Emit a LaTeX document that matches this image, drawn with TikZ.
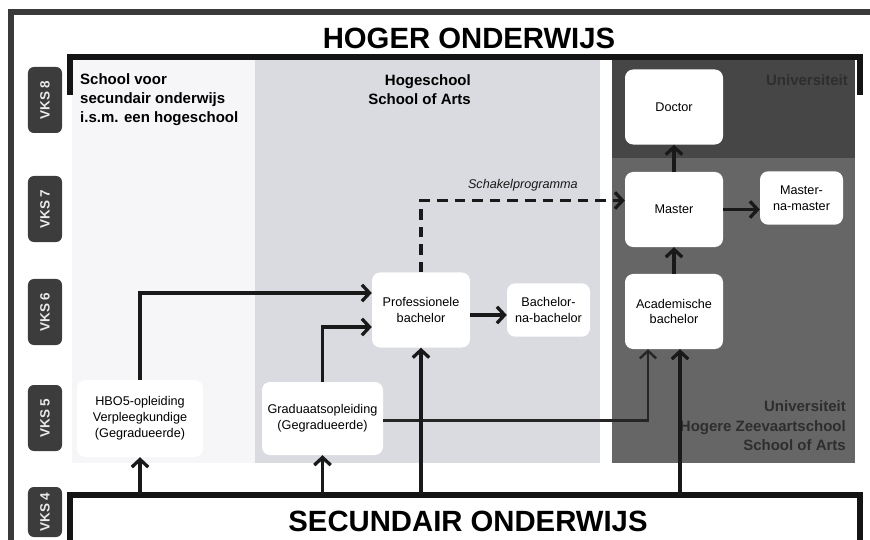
\documentclass[tikz,border=0pt]{standalone}
\usepackage{fontspec}
\setmainfont{Liberation Sans}
\usetikzlibrary{positioning, arrows.meta, calc}

\definecolor{frameGrey}{HTML}{3A3A3A}
\definecolor{tabGrey}{HTML}{3C3C3C}
\definecolor{schoolPanel}{HTML}{F6F6F9}
\definecolor{hsPanel}{HTML}{DADBE1}
\definecolor{uniTop}{HTML}{464646}
\definecolor{uniLow}{HTML}{666666}
\definecolor{uniText}{HTML}{2E2E2E}

\begin{document}
\begin{tikzpicture}[
    x=0.03cm, y=-0.03cm,
    >={Straight Barb[length=6.5pt, width=14pt]},
    conn/.style={->, line width=2.8pt, black!90},
    thinconn/.style={->, line width=2pt, black!85},
    schakel/.style={->, line width=2.8pt, black!90, dash pattern=on 9pt off 6pt},
    box/.style={rounded corners=7pt, fill=white, align=center, inner sep=2pt,
        font=\fontsize{10.8}{13.5}\selectfont},
    bigbox/.style={box, minimum width=2.94cm, minimum height=2.25cm},
    smallbox/.style={box, minimum width=2.49cm, minimum height=1.6cm},
    widebox/.style={box, minimum width=3.7cm, minimum height=2.25cm},
    vks/.style={rotate=90, fill=tabGrey, text=black!8, rounded corners=5pt,
        minimum width=1.98cm, minimum height=1.02cm, inner sep=0pt,
        font=\fontsize{11.5}{13}\selectfont\bfseries},
    title/.style={font=\fontsize{25}{30}\selectfont\bfseries},
    paneltitle/.style={font=\fontsize{12.8}{16.5}\selectfont\bfseries, inner sep=0pt},
    bracket/.style={line width=4.7pt, black!92},
]
    \useasboundingbox (0,0) rectangle (870,540);

    % --- Achtergrondvlakken ---
    \fill[schoolPanel] (72,60) rectangle (255,463);
    \fill[hsPanel] (255,60) rectangle (600,463);
    \fill[uniTop] (612,60) rectangle (855,158);
    \fill[uniLow] (612,158) rectangle (855,463);

    % --- Kaders ---
    \draw[line width=4.5pt, frameGrey] (11,540) -- (11,12) -- (870,12);
    \draw[bracket] (70,95) |- (860,57) -- (860,95);
    \draw[bracket] (70,540) |- (860,495) -- (860,540);
    \coordinate (sec) at (0,495);

    % --- Titels ---
    \node[title] (hoger) at (469,38) {HOGER ONDERWIJS};
    \node[title] (secundair) at (468,521) {SECUNDAIR ONDERWIJS};

    % --- VKS-niveaus ---
    \node[vks] (vks8) at (45,100) {VKS 8};
    \node[vks] (vks7) at (45,209) {VKS 7};
    \node[vks] (vks6) at (45,312) {VKS 6};
    \node[vks] (vks5) at (45,418) {VKS 5};
    \node[vks, minimum width=1.5cm] (vks4) at (45,512) {VKS 4};

    % --- Namen van de instellingen ---
    \node[paneltitle, align=left, anchor=north west] (svo) at (80,73)
        {School voor\\secundair onderwijs\\i.s.m. een hogeschool};
    \node[paneltitle, align=right, anchor=north east] (hs) at (471,74)
        {Hogeschool\\School of Arts};
    \node[paneltitle, text=uniText, anchor=north east] (uni) at (848,74) {Universiteit};
    \node[paneltitle, text=uniText, align=right, anchor=south east,
        font=\fontsize{12.8}{16.5}\selectfont\bfseries] (unilow) at (846,451)
        {Universiteit\\Hogere Zeevaartschool\\School of Arts};

    % --- Opleidingen ---
    \node[bigbox] (doctor) at (674,107) {Doctor};
    \node[bigbox] (master) at (674,209.5) {Master};
    \node[smallbox] (mnm) at (801.5,198) {Master-\\na-master};
    \node[bigbox] (acad) at (674,311.5) {Academische\\bachelor};
    \node[bigbox] (prof) at (421,310) {Professionele\\bachelor};
    \node[smallbox] (bnb) at (548.5,310) {Bachelor-\\na-bachelor};
    \node[widebox, minimum width=3.78cm, minimum height=2.31cm] (hbo) at (140,418.5)
        {HBO5-opleiding\\Verpleegkundige\\(Gegradueerde)};
    \node[widebox, minimum width=3.63cm, minimum height=2.19cm] (grad) at (322.5,418.5)
        {Graduaatsopleiding\\(Gegradueerde)};

    % --- Doorstroom binnen het hoger onderwijs ---
    \draw[conn] (master.north) -- (doctor.south);
    \draw[conn] (acad.north) -- (master.south);
    \draw[conn] (master.east) -- (master.east -| mnm.west);
    \draw[conn] ($(prof.east)+(0,5)$) -- ($(prof.east -| bnb.west)+(0,5)$);
    \draw[schakel] (prof.north) |- ($(master.west)+(0,-9)$)
        node[pos=0.75, above=3pt, font=\fontsize{10.8}{12}\selectfont\itshape] (schakeltxt) {Schakelprogramma};
    \draw[conn] (hbo.north) |- ($(prof.west)+(0,-17)$);
    \draw[conn] (grad.north) |- ($(prof.west)+(0,17)$);
    \draw[thinconn] ($(grad.east)+(0,2)$) -| ($(acad.south)+(-26,0)$);

    % --- Instroom vanuit het secundair onderwijs ---
    \draw[conn] (hbo.south |- sec) -- (hbo.south);
    \draw[conn] (grad.south |- sec) -- (grad.south);
    \draw[conn] (prof.south |- sec) -- (prof.south);
    \draw[conn] ($(acad.south |- sec)+(6,0)$) -- ($(acad.south)+(6,0)$);

\end{tikzpicture}
\end{document}
